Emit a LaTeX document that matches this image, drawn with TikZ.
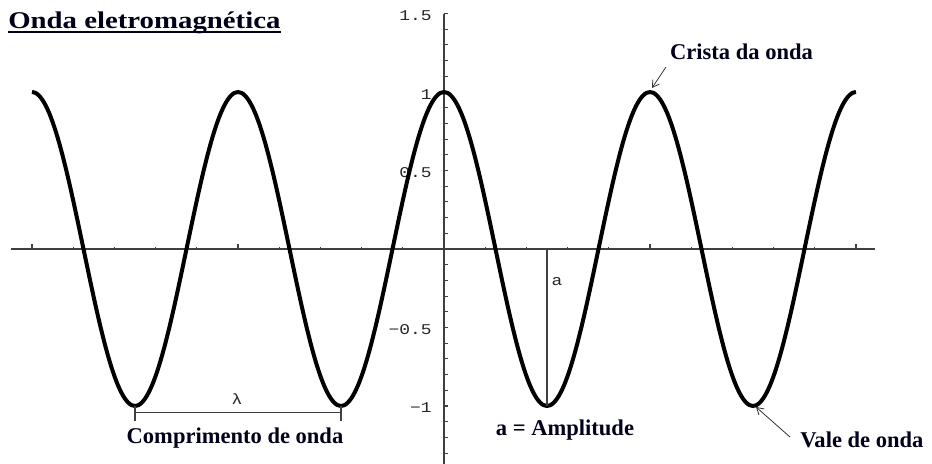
\documentclass[tikz,border=0pt]{standalone}
\usepackage{fontspec}
\setmainfont{Liberation Serif}
\newfontfamily\lblfont{Liberation Serif}
\newfontfamily\titlefont[FakeStretch=1.2]{Liberation Serif}
\newfontfamily\tickfont[FakeStretch=1.2]{Liberation Mono}
\usetikzlibrary{arrows.meta}
\tikzset{
  axisline/.style={line width=0.8pt, draw=black!75},
  wave/.style={line width=3pt, black, line join=round},
  ticklbl/.style={font=\tickfont\fontsize{11.2}{12}\selectfont, inner sep=0pt, text=black!85},
  boldlbl/.style={font=\lblfont\bfseries\fontsize{16.9}{18}\selectfont, inner sep=0pt, text=black!90!blue},
  thinline/.style={line width=0.8pt, draw=black!75},
  pointer/.style={line width=0.6pt, draw=black!80, -{Straight Barb[length=5pt,width=6pt]}}
}
\begin{document}
\begin{tikzpicture}[x=0.75pt,y=-0.75pt]
\useasboundingbox (0,0) rectangle (932,464);
% axes
\draw[axisline] (11,249) -- (875,249);
\draw[axisline] (444,13.5) -- (444,464);
\foreach \v in {-13,...,15}
  \draw[axisline] (444,{249-15.7*\v}) -- ++(4,0);
\foreach \k in {-20,-18,...,20}{
  \ifnum\k=0\relax\else
    \pgfmathtruncatemacro{\maj}{(abs(\k)==10)||(abs(\k)==20)}
    \ifnum\maj=1
      \draw[axisline] ({444+20.6*\k},249) -- ++(0,-5);
    \else
      \draw[axisline] ({444+20.6*\k},249) -- ++(0,-2);
    \fi
  \fi
}
% tick labels
\node[ticklbl, anchor=east] (t15) at (432,16) {1.5};
\node[ticklbl, anchor=east] (t10) at (432,95) {1};
\node[ticklbl, anchor=east] (t05) at (432,173) {0.5};
\node[ticklbl, anchor=east] (tm05) at (432,330) {−0.5};
\node[ticklbl, anchor=east] (tm10) at (432,408) {−1};
% wave
\draw[wave] plot[domain=-20:20, samples=241, smooth] ({444+20.6*\x},{249-157*cos(36*\x)});
% title
\node[font=\titlefont\bfseries\fontsize{18}{20}\selectfont, inner sep=0pt, anchor=base west, text=black!90!blue] (title) at (8,28.5) {Onda eletromagnética};
\draw[line width=1.5pt, black!90!blue] ([yshift=-2.6pt]title.base west) -- ([yshift=-2.6pt]title.base east);
% amplitude
\coordinate (ampTop) at (547,249);
\coordinate (ampBot) at (547,406);
\draw[thinline] (ampTop) -- (ampBot);
\node[ticklbl] (alab) at (557,282) {a};
\node[boldlbl, anchor=base] (amp) at (565,435) {a = Amplitude};
% wavelength
\coordinate (wl) at (135,412.7);
\coordinate (wr) at (341,412.7);
\draw[thinline] (wl) -- (wr);
\draw[thinline] ([yshift=5pt]wl) -- ([yshift=-6pt]wl);
\draw[thinline] ([yshift=5pt]wr) -- ([yshift=-6pt]wr);
\node[ticklbl] (lam) at (237,399) {λ};
\node[boldlbl, anchor=base] (comp) at (235,443) {Comprimento de onda};
% crest
\node[boldlbl, anchor=base] (crista) at (741.5,59) {Crista da onda};
\coordinate (crestpt) at (652,88);
\coordinate (crestfrom) at (666,67);
\draw[pointer] (crestfrom) -- (crestpt);
% trough
\node[boldlbl, anchor=base west] (vale) at (800,447) {Vale de onda};
\coordinate (valept) at (756,407);
\coordinate (valefrom) at (790,437);
\draw[pointer] (valefrom) -- (valept);
\end{tikzpicture}
\end{document}
